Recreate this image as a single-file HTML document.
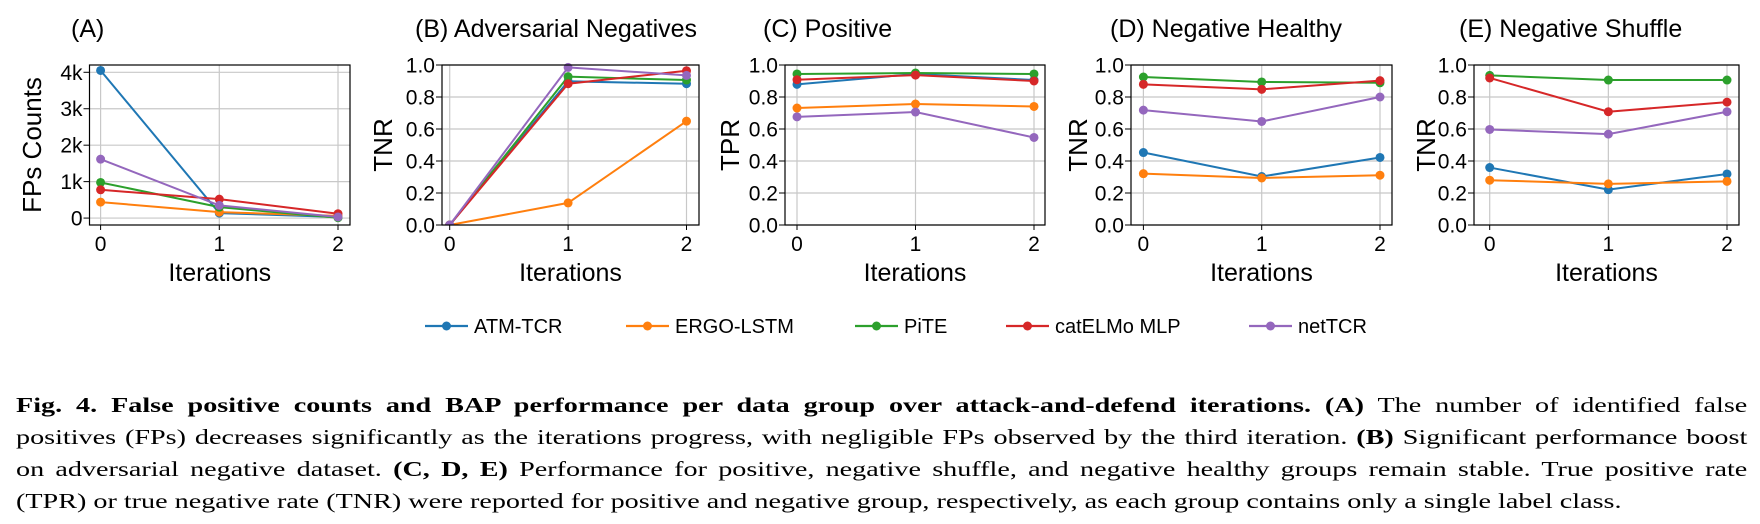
<!DOCTYPE html>
<html><head><meta charset="utf-8">
<style>
html,body{margin:0;padding:0;background:#fff;}
body{width:1760px;height:524px;overflow:hidden;position:relative;}
svg text{font-family:"Liberation Sans",sans-serif;fill:#000;}
#caption{position:absolute;left:16px;top:389px;width:1292px;transform:scaleX(1.34);transform-origin:0 0;font-family:"Liberation Serif",serif;font-size:21px;line-height:32px;color:#000;}
#caption div{text-align:justify;text-align-last:justify;white-space:nowrap;}
#caption div.last{text-align-last:left;}
</style></head><body>
<svg id="fig" width="1760" height="390" viewBox="0 0 1760 390" xmlns="http://www.w3.org/2000/svg"></svg>
<div id="caption">
<div><b>Fig. 4. False positive counts and BAP performance per data group over attack-and-defend iterations. (A)</b> The number of identified false</div>
<div>positives (FPs) decreases significantly as the iterations progress, with negligible FPs observed by the third iteration. <b>(B)</b> Significant performance boost</div>
<div>on adversarial negative dataset. <b>(C, D, E)</b> Performance for positive, negative shuffle, and negative healthy groups remain stable. True positive rate</div>
<div class="last">(TPR) or true negative rate (TNR) were reported for positive and negative group, respectively, as each group contains only a single label class.</div>
</div>
<script>
const iterations = [0, 1, 2];
const seriesNames = ["ATM-TCR", "ERGO-LSTM", "PiTE", "catELMo MLP", "netTCR"];
const colors = ["#1f77b4", "#ff7f0e", "#2ca02c", "#d62728", "#9467bd"];
// values per panel, per series (ATM, ERGO, PiTE, catELMo, netTCR)
const fpCounts = [[4050, 137, 30], [438, 164, 60], [977, 300, 10], [776, 520, 120], [1616, 347, 30]];
const advNegTNR = [[0, 0.898, 0.883], [0, 0.138, 0.649], [0, 0.927, 0.906], [0, 0.883, 0.964], [0, 0.985, 0.935]];
const positiveTPR = [[0.879, 0.944, 0.906], [0.731, 0.756, 0.741], [0.944, 0.95, 0.944], [0.908, 0.937, 0.90], [0.676, 0.706, 0.547]];
const negHealthyTNR = [[0.453, 0.303, 0.422], [0.321, 0.294, 0.311], [0.925, 0.894, 0.889], [0.879, 0.848, 0.902], [0.718, 0.647, 0.80]];
const negShuffleTNR = [[0.359, 0.221, 0.319], [0.28, 0.257, 0.273], [0.935, 0.906, 0.906], [0.919, 0.708, 0.768], [0.597, 0.568, 0.708]];
const countTicks = [0, 1000, 2000, 3000, 4000];
const countTickLabels = ["0", "1k", "2k", "3k", "4k"];
const rateTicks = [0, 0.2, 0.4, 0.6, 0.8, 1.0];
const rateTickLabels = ["0.0", "0.2", "0.4", "0.6", "0.8", "1.0"];
const panelTitles = ["(A)", "(B) Adversarial Negatives", "(C) Positive", "(D) Negative Healthy", "(E) Negative Shuffle"];
const yLabels = ["FPs Counts", "TNR", "TPR", "TNR", "TNR"];

const NS = "http://www.w3.org/2000/svg";
const svg = document.getElementById('fig');
function el(tag, attrs, parent, txt){
  const e = document.createElementNS(NS, tag);
  for (const k in attrs) e.setAttribute(k, attrs[k]);
  if (txt !== undefined) e.textContent = txt;
  (parent || svg).appendChild(e);
  return e;
}
const layout = [
  {l:89.5,r:350,x0:100.6,x2:338,title:71,ylab:32},
  {l:442,r:699,x0:449.7,x2:686.5,title:415,ylab:383},
  {l:785,r:1045,x0:797,x2:1034,title:763,ylab:730},
  {l:1131,r:1392,x0:1143.4,x2:1380,title:1110,ylab:1078},
  {l:1474,r:1739,x0:1489.7,x2:1727,title:1459,ylab:1426}
];
const panelData = [fpCounts, advNegTNR, positiveTPR, negHealthyTNR, negShuffleTNR];
const plotTop = 65, plotBottom = 225;
const slugs = ["a","b","c","d","e"];
layout.forEach((p, pi) => {
  const g = el('g', {});
  
  
  const isCount = pi === 0;
  const ymin = isCount ? -190 : 0, ymax = isCount ? 4200 : 1.0;
  const ys = v => plotBottom - (v - ymin) / (ymax - ymin) * (plotBottom - plotTop);
  const xs = i => p.x0 + (p.x2 - p.x0) * (i - iterations[0]) / (iterations[2] - iterations[0]);
  const ticks = isCount ? countTicks : rateTicks;
  const tlabels = isCount ? countTickLabels : rateTickLabels;
  ticks.forEach((t, k) => {
    const y = ys(t);
    el('line', {x1:p.l, x2:p.r, y1:y, y2:y, stroke:'#c8c8c8', 'stroke-width':1.2}, g);
    el('line', {x1:p.l-6, x2:p.l, y1:y, y2:y, stroke:'#000', 'stroke-width':1}, g);
    const tl = el('text', {x:p.l-7, y:y+7.5, 'text-anchor':'end', 'font-size':21}, g, tlabels[k]);
    
    
  });
  iterations.forEach(it => {
    const x = xs(it);
    el('line', {x1:x, x2:x, y1:plotTop, y2:plotBottom, stroke:'#c8c8c8', 'stroke-width':1.2}, g);
    el('line', {x1:x, x2:x, y1:plotBottom, y2:plotBottom+5, stroke:'#000', 'stroke-width':1}, g);
    const tl = el('text', {x:x, y:plotBottom+26, 'text-anchor':'middle', 'font-size':21}, g, String(it));
    
    
  });
  const cp = el('clipPath', {id:'clip'+pi}, g);
  el('rect', {x:p.l, y:plotTop-6, width:p.r-p.l+6, height:plotBottom-plotTop+6}, cp);
  const sg = el('g', {'clip-path':'url(#clip'+pi+')'}, g);
  panelData[pi].forEach((vals, si) => {
    const pts = vals.map((v, i) => xs(iterations[i]) + ',' + ys(v)).join(' ');
    const pl = el('polyline', {points:pts, fill:'none', stroke:colors[si], 'stroke-width':2}, sg);
    
    
    vals.forEach((v, i) => {
      const c = el('circle', {cx:xs(iterations[i]), cy:ys(v), r:4.5, fill:colors[si]}, sg);
      
      
    });
  });
  el('rect', {x:p.l, y:plotTop, width:p.r-p.l, height:plotBottom-plotTop, fill:'none', stroke:'#000', 'stroke-width':1.2}, g);
  const t = el('text', {x:p.title, y:37, 'font-size':25}, g, panelTitles[pi]);
  
  
  const cy = (plotTop+plotBottom)/2;
  const yl = el('text', {x:p.ylab, y:cy, 'text-anchor':'middle', 'font-size':26, transform:'rotate(-90 '+p.ylab+' '+cy+') translate(0 9)'}, g, yLabels[pi]);
  
  
  const xl = el('text', {x:(p.l+p.r)/2, y:281, 'text-anchor':'middle', 'font-size':25}, g, 'Iterations');
  
  
});
const legendX = [425, 626, 855, 1006, 1249];
const leg = el('g', {});


seriesNames.forEach((n, i) => {
  const e = el('g', {}, leg);
  
  
  const x = legendX[i], y = 326;
  el('line', {x1:x, x2:x+43, y1:y, y2:y, stroke:colors[i], 'stroke-width':2.2}, e);
  el('circle', {cx:x+21.5, cy:y, r:4.5, fill:colors[i]}, e);
  el('text', {x:x+49, y:y+7, 'font-size':20}, e, n);
});
</script>
</body></html>
